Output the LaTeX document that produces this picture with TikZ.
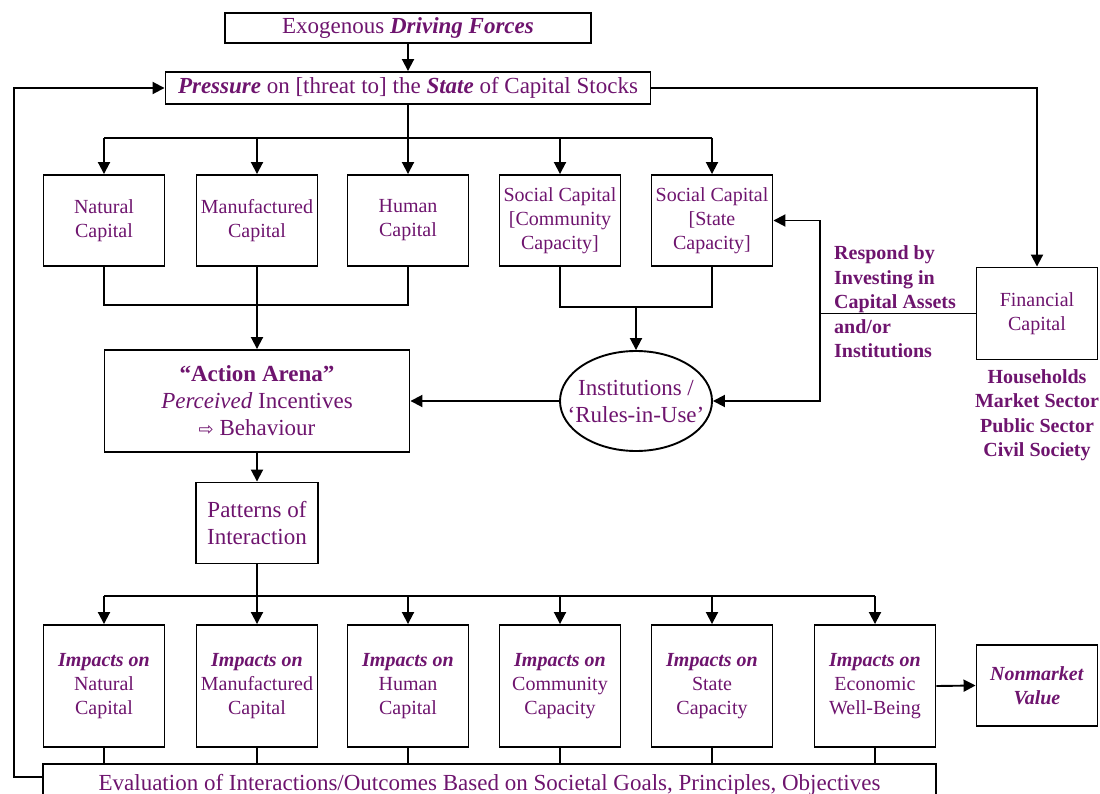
\documentclass[tikz,border=0pt]{standalone}
\usepackage{fontspec}
\setmainfont{Liberation Serif}
\newfontfamily\symfont{DejaVu Sans}
\usetikzlibrary{arrows.meta,shapes.geometric}
\definecolor{txt}{RGB}{110,20,110}
\begin{document}
\begin{tikzpicture}[x=1pt,y=-1pt,
  box/.style={draw, line width=1.9pt, text=txt, align=center, inner sep=0pt, font=\fontsize{20}{24}\selectfont},
  bigbox/.style={box, font=\fontsize{23}{27}\selectfont},
  capbox/.style={box, minimum width=121, minimum height=91},
  impbox/.style={box, minimum width=121, minimum height=122},
  link/.style={line width=1.9pt},
  arr/.style={link, -{Triangle[length=12pt,width=12pt]}},
  lbl/.style={text=txt, inner sep=0pt, font=\fontsize{20}{24.5}\selectfont\bfseries},
]
\useasboundingbox (0,0) rectangle (1100,794);
% top
\node[bigbox, minimum width=366, minimum height=30] (exo) at (408,28) {Exogenous \textbf{\textit{Driving Forces}}};
\node[bigbox, minimum width=485, minimum height=32] (pr) at (408,88) {\textbf{\textit{Pressure}} on [threat to] the \textbf{\textit{State}} of Capital Stocks};
% capital boxes
\node[capbox] (nat) at (104,220.5) {Natural\\Capital};
\node[capbox] (man) at (257,220.5) {Manufactured\\Capital};
\node[capbox] (hum) at (408,220.5) {Human\\Capital};
\node[capbox] (sc) at (560,220.5) {Social Capital\\{[}Community\\Capacity]};
\node[capbox] (ss) at (712,220.5) {Social Capital\\{[}State\\Capacity]};
\node[box, minimum width=121, minimum height=92] (fin) at (1037,313.5) {Financial\\Capital};
% middle
\node[bigbox, minimum width=305, minimum height=102] (aa) at (257,401) {\textbf{“Action Arena”}\\\textit{Perceived} Incentives\\{\symfont\fontsize{18}{27}\selectfont ⇨} Behaviour};
\node[bigbox, ellipse, inner xsep=-22pt, inner ysep=0pt, minimum width=152, minimum height=100] (inst) at (636,401) {Institutions /\\‘Rules-in-Use’};
\node[bigbox, minimum width=122, minimum height=81] (pat) at (257,523) {Patterns of\\Interaction};
\node[lbl, align=left, anchor=west] (resp) at (834,302) {Respond by\\Investing in\\Capital Assets\\and/or\\Institutions};
\node[lbl, align=center] (sect) at (1037,415) {Households\\Market Sector\\Public Sector\\Civil Society};
% impacts
\node[impbox] (i1) at (104,686) {\textbf{\textit{Impacts on}}\\Natural\\Capital};
\node[impbox] (i2) at (257,686) {\textbf{\textit{Impacts on}}\\Manufactured\\Capital};
\node[impbox] (i3) at (408,686) {\textbf{\textit{Impacts on}}\\Human\\Capital};
\node[impbox] (i4) at (560,686) {\textbf{\textit{Impacts on}}\\Community\\Capacity};
\node[impbox] (i5) at (712,686) {\textbf{\textit{Impacts on}}\\State\\Capacity};
\node[impbox] (i6) at (875,686) {\textbf{\textit{Impacts on}}\\Economic\\Well-Being};
\node[box, minimum width=121, minimum height=81] (nm) at (1037,685.5) {\textbf{\textit{Nonmarket}}\\\textbf{\textit{Value}}};
\node[bigbox, minimum width=893, minimum height=42] (ev) at (489.5,785) {Evaluation of Interactions/Outcomes Based on Societal Goals, Principles, Objectives};
% coordinates
\coordinate (t1) at (408,138);
\coordinate (j1) at (257,305);
\coordinate (j2) at (636,307);
\coordinate (jr) at (820,313.5);
\coordinate (t2) at (257,596);
\coordinate (fb) at (14,777);
% connectors
\draw[arr] (exo.south) -- (pr.north);
\draw[link] (pr.south) -- (t1);
\draw[link] (nat.north|-t1) -- (ss.north|-t1);
\foreach \n in {nat,man,hum,sc,ss} \draw[arr] (\n.north|-t1) -- (\n.north);
\draw[arr] (pr.east) -| (fin.north);
\draw[link] (nat.south) -- (nat.south|-j1) -- (hum.south|-j1) -- (hum.south);
\draw[arr] (man.south) -- (aa.north);
\draw[link] (sc.south) |- (j2) -| (ss.south);
\draw[arr] (j2) -- (inst.north);
\draw[link] (fin.west) -- (jr);
\draw[arr] (jr) |- (ss.east);
\draw[arr] (jr) |- (inst.east);
\draw[arr] (inst.west) -- (aa.east);
\draw[arr] (aa.south) -- (pat.north);
\draw[link] (pat.south) -- (t2);
\draw[link] (i1.north|-t2) -- (i6.north|-t2);
\foreach \n in {i1,i2,i3,i4,i5,i6} {
  \draw[arr] (\n.north|-t2) -- (\n.north);
  \draw[link] (\n.south) -- (\n.south|-ev.north);
}
\draw[arr] (i6.east) -- (nm.west);
\draw[arr] (ev.west|-fb) -- (fb) |- (pr.west);
\end{tikzpicture}
\end{document}
